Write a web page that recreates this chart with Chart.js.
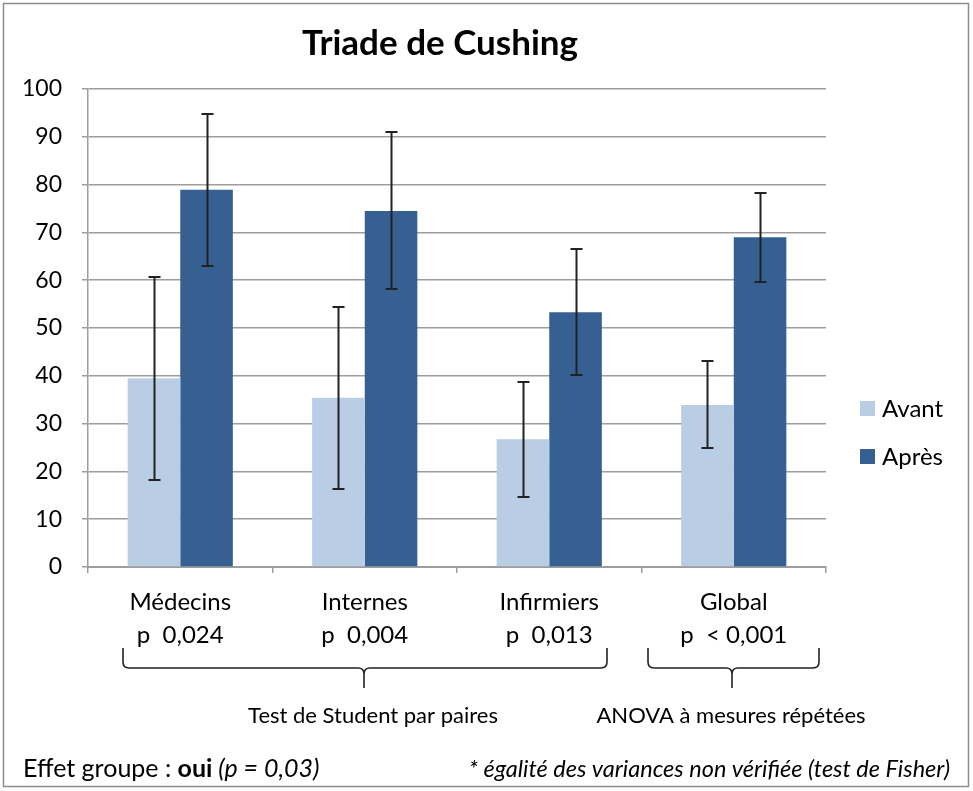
<!DOCTYPE html>
<html>
<head>
<meta charset="utf-8">
<script src="https://cdn.jsdelivr.net/npm/chart.js@4.4.1/dist/chart.umd.min.js"></script>
<style>
  html, body { margin: 0; padding: 0; background: #fff; }
  #wrap { position: relative; width: 973px; height: 791px; }
  canvas { display: block; }
</style>
</head>
<body>
<div id="wrap"><canvas id="c" width="973" height="791"></canvas></div>
<script>
// ---- Data ----
const categories = ['Médecins', 'Internes', 'Infirmiers', 'Global'];
const pLabels = ['p  0,024', 'p  0,004', 'p  0,013', 'p  < 0,001'];
const seriesNames = ['Avant', 'Après'];
const avant = [39.5, 35.4, 26.7, 33.9];
const avantSD = [21.2, 19.0, 12.0, 9.1];
const apres = [78.9, 74.5, 53.3, 69.0];
const apresSD = [15.9, 16.4, 13.2, 9.3];
const yTicks = [0, 10, 20, 30, 40, 50, 60, 70, 80, 90, 100];
const titleText = 'Triade de Cushing';
const braceLabels = ['Test de Student par paires', 'ANOVA à mesures répétées'];
const footLeft = ['Effet groupe : ', 'oui', ' (p = 0,03)'];
const footRight = '* égalité des variances non vérifiée (test de Fisher)';

const FONT = 'Lato, "Open Sans", sans-serif';
const COL_AVANT = '#B9CDE5';
const COL_APRES = '#376092';
const GRID = '#9d9d9d';

const labels = categories.map((c, i) => [c, pLabels[i]]);
const sds = [avantSD, apresSD];

const decorPlugin = {
  id: 'decor',
  beforeDraw(chart) {
    const ctx = chart.ctx;
    ctx.save();
    ctx.fillStyle = '#fff';
    ctx.fillRect(0, 0, chart.width, chart.height);
    ctx.strokeStyle = '#8c8c8c';
    ctx.lineWidth = 1.5;
    ctx.strokeRect(3.5, 3.5, 965, 783);
    ctx.restore();
  },
  afterDatasetsDraw(chart) {
    const ctx = chart.ctx;
    const y = chart.scales.y;
    ctx.save();
    ctx.strokeStyle = '#222';
    ctx.lineWidth = 2;
    chart.data.datasets.forEach((ds, di) => {
      const meta = chart.getDatasetMeta(di);
      meta.data.forEach((bar, i) => {
        const v = ds.data[i], sd = sds[di][i];
        const yt = Math.round(y.getPixelForValue(v + sd));
        const yb = Math.round(y.getPixelForValue(v - sd));
        const x = Math.round(bar.x) + 0.5;
        ctx.beginPath();
        ctx.moveTo(x, yt); ctx.lineTo(x, yb);
        ctx.moveTo(x - 6, yt); ctx.lineTo(x + 6, yt);
        ctx.moveTo(x - 6, yb); ctx.lineTo(x + 6, yb);
        ctx.stroke();
      });
    });
    ctx.restore();
  },
  afterDraw(chart) {
    const ctx = chart.ctx;
    ctx.save();
    ctx.fillStyle = '#000';
    // Title
    ctx.font = 'bold 35px ' + FONT;
    ctx.textAlign = 'center';
    ctx.textBaseline = 'middle';
    ctx.fillText(titleText, 440, 44);

    // Legend
    const legY = [408, 456];
    const cols = [COL_AVANT, COL_APRES];
    ctx.font = '24px ' + FONT;
    ctx.textAlign = 'left';
    seriesNames.forEach((n, i) => {
      ctx.fillStyle = cols[i];
      ctx.fillRect(860, legY[i] - 7, 15, 15);
      ctx.fillStyle = '#000';
      ctx.fillText(n, 882, legY[i] + 1);
    });

    // Braces
    ctx.strokeStyle = '#222';
    ctx.lineWidth = 1.6;
    function brace(x1, x2, xc, yTop, yMid, yTip) {
      const r = 6;
      ctx.beginPath();
      ctx.moveTo(x1, yTop);
      ctx.lineTo(x1, yMid - r);
      ctx.quadraticCurveTo(x1, yMid, x1 + r, yMid);
      ctx.lineTo(xc - r, yMid);
      ctx.quadraticCurveTo(xc, yMid, xc, yMid + r);
      ctx.lineTo(xc, yTip);
      ctx.moveTo(xc, yMid + r);
      ctx.quadraticCurveTo(xc, yMid, xc + r, yMid);
      ctx.lineTo(x2 - r, yMid);
      ctx.quadraticCurveTo(x2, yMid, x2, yMid - r);
      ctx.lineTo(x2, yTop);
      ctx.stroke();
    }
    brace(123, 607, 364, 648, 668, 688);
    brace(648, 819, 732, 648, 668, 688);

    ctx.font = '22px ' + FONT;
    ctx.textAlign = 'center';
    ctx.fillText(braceLabels[0], 373, 716);
    ctx.fillText(braceLabels[1], 731, 716);

    // Footer
    ctx.textAlign = 'left';
    let x = 23;
    const fonts = ['25px ' + FONT, 'bold 25px ' + FONT, 'italic 25px ' + FONT];
    footLeft.forEach((t, i) => {
      ctx.font = fonts[i];
      ctx.fillText(t, x, 769);
      x += ctx.measureText(t).width;
    });
    ctx.font = 'italic 23.5px ' + FONT;
    ctx.textAlign = 'right';
    ctx.fillText(footRight, 950, 769);
    ctx.restore();
  }
};

new Chart(document.getElementById('c'), {
  type: 'bar',
  data: {
    labels: labels,
    datasets: [
      { label: seriesNames[0], data: avant, backgroundColor: COL_AVANT, borderWidth: 0 },
      { label: seriesNames[1], data: apres, backgroundColor: COL_APRES, borderWidth: 0 }
    ]
  },
  options: {
    responsive: false,
    animation: false,
    devicePixelRatio: 1,
    layout: { padding: { left: 0, right: 147, top: 89, bottom: 124 } },
    datasets: { bar: { categoryPercentage: 0.57, barPercentage: 1.0 } },
    plugins: {
      legend: { display: false },
      title: { display: false },
      tooltip: { enabled: false }
    },
    scales: {
      x: {
        offset: true,
        grid: { display: true, drawOnChartArea: false, drawTicks: true, tickLength: 6, offset: true, color: GRID, lineWidth: 1.5 },
        border: { display: true, color: GRID, width: 2 },
        ticks: { color: '#000', font: { family: FONT, size: 24, lineHeight: 1.375 }, padding: 13, maxRotation: 0, autoSkip: false },
        afterFit(s) { s.height = 100; }
      },
      y: {
        min: 0, max: 100,
        afterBuildTicks(s) { s.ticks = yTicks.map(v => ({ value: v })); },
        grid: { color: GRID, lineWidth: 1.5, tickLength: 6 },
        border: { display: true, color: GRID, width: 1.5 },
        ticks: { color: '#000', font: { family: FONT, size: 23 }, padding: 20 },
        afterFit(s) { s.width = 88; }
      }
    }
  },
  plugins: [decorPlugin]
});
</script>
</body>
</html>
